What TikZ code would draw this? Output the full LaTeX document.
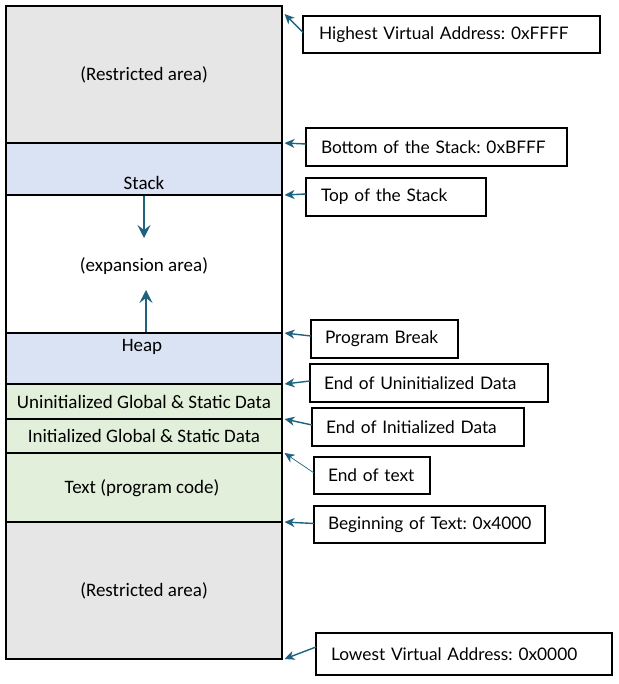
\documentclass[tikz,border=0pt]{standalone}
\usepackage{fontspec}
\setmainfont{Carlito}
\newfontfamily\labfont{Lato}
\usetikzlibrary{arrows.meta}
\frenchspacing
\definecolor{restr}{RGB}{231,230,230}
\definecolor{bluefill}{RGB}{218,227,243}
\definecolor{greenfill}{RGB}{226,239,218}
\definecolor{arr}{RGB}{31,98,128}
\tikzset{
  region/.style={draw=black, line width=2.6pt, minimum width=276pt, inner sep=0pt, outer sep=0pt, anchor=north west},
  regtext/.style={font=\fontsize{19}{21}\selectfont, inner sep=0pt},
  lab/.style={draw=black, line width=1.6pt, anchor=north west, inner xsep=8pt, inner ysep=0pt, outer sep=0pt,
    font=\labfont\fontsize{17.3}{19}\selectfont, align=left},
  ptr/.style={draw=arr, line width=1.4pt, -{Stealth[length=10pt,width=9pt,inset=3pt]}},
  growarrow/.style={draw=arr, line width=1.2pt, -{Stealth[length=13pt,width=13pt,inset=5pt]}}
}
\begin{document}
\begin{tikzpicture}[x=1pt,y=-1pt]
\useasboundingbox (0,0) rectangle (618,684);
% regions
\node[region, fill=restr, minimum height=137pt] (r1) at (6,6) {};
\node[region, fill=restr, minimum height=137pt] (r2) at (6,522) {};
\node[region, fill=white, minimum height=138pt] (exp) at (6,195) {};
\node[region, fill=bluefill, minimum height=52pt] (stack) at (6,143) {};
\node[region, fill=bluefill, minimum height=51pt] (heap) at (6,333) {};
\node[region, fill=greenfill, minimum height=35pt] (uninit) at (6,384) {};
\node[region, fill=greenfill, minimum height=34pt] (init) at (6,419) {};
\node[region, fill=greenfill, minimum height=69pt] (text) at (6,453) {};
% region texts
\node[regtext] (t1) at (144,75) {(Restricted area)};
\node[regtext] (t2) at (144,183) {Stack};
\node[regtext] (t3) at (144,266) {(expansion area)};
\node[regtext] (t4) at (142,347) {Heap};
\node[regtext] (t5) at (144,402) {Uninitialized Global \& Static Data};
\node[regtext] (t6) at (144,436) {Initialized Global \& Static Data};
\node[regtext] (t7) at (142,488) {Text (program code)};
\node[regtext] (t8) at (144,591) {(Restricted area)};
% growth arrows
\coordinate (stop) at (144,196.3);
\coordinate (sdown) at (144,238);
\coordinate (hbase) at (146,331.7);
\coordinate (hup) at (146,290);
\draw[growarrow] (stop) -- (sdown);
\draw[growarrow] (hbase) -- (hup);
% labels
\node[lab, minimum width=297pt, minimum height=37pt, text width=281pt] (hv) at (303,16) {\hspace*{8pt}Highest Virtual Address: 0xFFFF};
\node[lab, minimum width=261pt, minimum height=38pt, text width=245pt] (bs) at (306,128) {\hspace*{7pt}Bottom of the Stack: 0xBFFF};
\node[lab, minimum width=180pt, minimum height=38pt, text width=164pt] (ts) at (306,178) {\hspace*{7pt}Top of the Stack};
\node[lab, minimum width=147pt, minimum height=38pt, text width=131pt] (pb) at (311,320) {\hspace*{6pt}Program Break};
\node[lab, minimum width=238pt, minimum height=38pt, text width=222pt] (eu) at (310,364) {\hspace*{6pt}End of Uninitialized Data};
\node[lab, minimum width=212pt, minimum height=38pt, text width=196pt] (ei) at (312,408) {\hspace*{6pt}End of Initialized Data};
\node[lab, minimum width=116pt, minimum height=37pt, text width=100pt] (et) at (314,457) {\hspace*{6pt}End of text};
\node[lab, minimum width=231pt, minimum height=37pt, text width=215pt] (bt) at (314,506) {\hspace*{6pt}Beginning of Text: 0x4000};
\node[lab, minimum width=296pt, minimum height=42pt, text width=280pt] (lv) at (316,633) {\hspace*{7pt}Lowest Virtual Address: 0x0000};
% pointers
\draw[ptr] ([yshift=2pt]hv.west) -- ([xshift=2.5pt,yshift=-8pt]r1.north east);
\draw[ptr] ([yshift=3pt]bs.west) -- ([xshift=2.5pt]r1.south east);
\draw[ptr] ([yshift=3pt]ts.west) -- ([xshift=2.5pt]stack.south east);
\draw[ptr] ([yshift=3pt]pb.west) -- ([xshift=2.5pt]heap.north east);
\draw[ptr] ([yshift=2pt]eu.west) -- ([xshift=2.5pt]heap.south east);
\draw[ptr] ([yshift=2pt]ei.west) -- ([xshift=2.5pt]uninit.south east);
\draw[ptr, line width=0.7pt] ([yshift=2.5pt]et.west) -- ([xshift=2.5pt]init.south east);
\draw[ptr] ([yshift=1pt]bt.west) -- ([xshift=2.5pt]text.south east);
\draw[ptr] ([yshift=7pt]lv.west) -- ([xshift=2.5pt]r2.south east);
\end{tikzpicture}
\end{document}
